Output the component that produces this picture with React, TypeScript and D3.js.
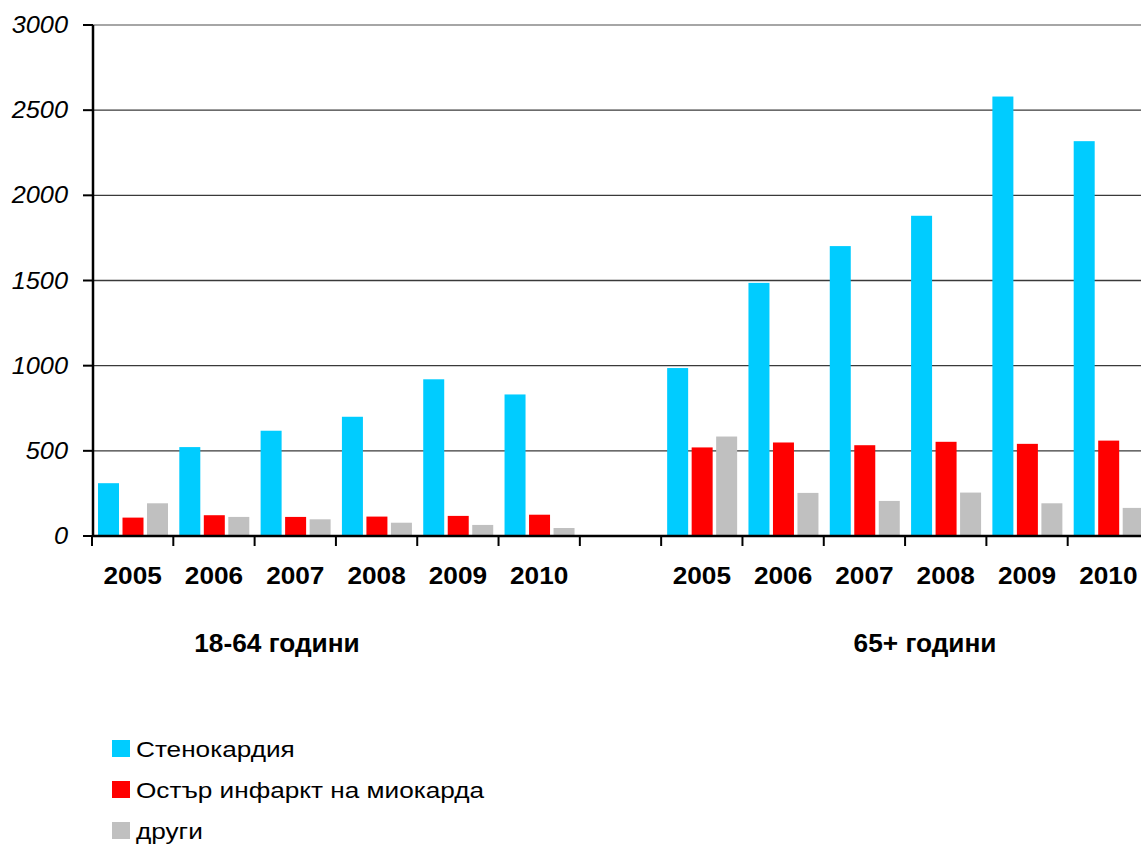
import React, { useEffect, useRef } from "react";
import { select, scaleBand, scaleLinear, axisBottom } from "d3";

// categories: 6 years, an empty gap slot, 6 years
const years = ["2005", "2006", "2007", "2008", "2009", "2010"];
const groups = ["18-64 години", "65+ години"];
const seriesNames = ["Стенокардия", "Остър инфаркт на миокарда", "други"];
const seriesColors = ["#00CCFF", "#FF0000", "#C0C0C0"];

// 18-64
const angina1864 = [310, 522, 618, 700, 920, 831];
const infarct1864 = [108, 122, 112, 114, 118, 125];
const other1864 = [192, 112, 98, 78, 65, 47];
// 65+
const angina65 = [986, 1486, 1702, 1880, 2580, 2318];
const infarct65 = [520, 549, 533, 553, 541, 560];
const other65 = [584, 253, 206, 255, 192, 165];

const yTicks = [0, 500, 1000, 1500, 2000, 2500, 3000];

const FONT = "'Liberation Sans', Arial, sans-serif";

export default function App() {
  const svgRef = useRef<SVGSVGElement>(null);

  useEffect(() => {
    document.body.style.margin = "0";
    const width = 1141;
    const height = 845;
    const svg = select(svgRef.current).attr("width", width).attr("height", height);
    svg.selectAll("*").remove();

    const slots = [...years.map((y) => "a" + y), "gap", ...years.map((y) => "b" + y)];
    const x = scaleBand().domain(slots).range([92, 1149]).padding(0);
    const inner = scaleBand<number>().domain([0, 1, 2]).range([6, 76]).paddingInner(0.143).paddingOuter(0);
    const y = scaleLinear().domain([0, 3000]).range([536, 25]);

    const rows: { slot: string; s: number; v: number }[] = [];
    const left = [angina1864, infarct1864, other1864];
    const right = [angina65, infarct65, other65];
    years.forEach((yr, i) => {
      left.forEach((arr, s) => rows.push({ slot: "a" + yr, s, v: arr[i] }));
      right.forEach((arr, s) => rows.push({ slot: "b" + yr, s, v: arr[i] }));
    });

    // gridlines
    svg.append("g")
      .selectAll("line")
      .data(yTicks.slice(1))
      .join("line")
      .attr("x1", 93)
      .attr("x2", width)
      .attr("y1", (d) => y(d))
      .attr("y2", (d) => y(d))
      .attr("stroke", (d) => (d === 3000 ? "#888" : "#3a3a3a"))
      .attr("stroke-width", 1.3);

    // bars
    svg.append("g")
      .selectAll("rect")
      .data(rows)
      .join("rect")
      .attr("x", (d) => (x(d.slot) as number) + (inner(d.s) as number))
      .attr("width", inner.bandwidth())
      .attr("y", (d) => y(d.v))
      .attr("height", (d) => y(0) - y(d.v))
      .attr("fill", (d) => seriesColors[d.s]);

    // y axis line + ticks + labels (labels slightly stretched like the original)
    svg.append("line")
      .attr("x1", 93).attr("x2", 93)
      .attr("y1", y(3000)).attr("y2", y(0) + 1)
      .attr("stroke", "#000").attr("stroke-width", 2.5);
    svg.append("g")
      .selectAll("line")
      .data(yTicks)
      .join("line")
      .attr("x1", 83).attr("x2", 93)
      .attr("y1", (d) => y(d)).attr("y2", (d) => y(d))
      .attr("stroke", "#000").attr("stroke-width", 2);
    svg.append("g")
      .selectAll("text")
      .data(yTicks)
      .join("text")
      .attr("transform", (d) => `translate(68,${y(d) + 8}) scale(1.1,1)`)
      .attr("text-anchor", "end")
      .style("font-family", FONT)
      .style("font-size", "23px")
      .style("font-style", "italic")
      .text((d) => String(d));

    // x axis: ticks at slot boundaries
    svg.append("line")
      .attr("x1", 92).attr("x2", width)
      .attr("y1", y(0)).attr("y2", y(0))
      .attr("stroke", "#000").attr("stroke-width", 2.5);
    const xAxis = axisBottom(x).tickSize(10).tickFormat(() => "");
    const gt = svg.append("g").attr("transform", `translate(${-x.bandwidth() / 2},${y(0)})`).call(xAxis);
    gt.select(".domain").remove();
    gt.selectAll(".tick line").attr("stroke", "#000").attr("stroke-width", 2);

    // year labels
    svg.append("g")
      .selectAll("text")
      .data(slots.filter((s) => s !== "gap"))
      .join("text")
      .attr("transform", (d) => `translate(${(x(d) as number) + x.bandwidth() / 2},584) scale(1.07,1)`)
      .attr("text-anchor", "middle")
      .style("font-family", FONT)
      .style("font-size", "24.5px")
      .style("font-weight", "bold")
      .text((d) => d.slice(1));

    // group labels
    svg.append("g")
      .selectAll("text")
      .data(groups)
      .join("text")
      .attr("transform", (d, i) => `translate(${i === 0 ? 277 : 925},652) scale(1.05,1)`)
      .attr("text-anchor", "middle")
      .style("font-family", FONT)
      .style("font-size", "25px")
      .style("font-weight", "bold")
      .text((d) => d);

    // legend
    const lg = svg.append("g")
      .selectAll("g")
      .data(seriesNames)
      .join("g")
      .attr("transform", (d, i) => `translate(112,${740 + i * 41})`);
    lg.append("rect").attr("width", 18).attr("height", 17).attr("fill", (d, i) => seriesColors[i]);
    lg.append("text")
      .attr("transform", "translate(24,17) scale(1.19,1)")
      .style("font-family", FONT)
      .style("font-size", "22px")
      .text((d) => d);
  }, []);

  return (
    <div>
      <svg ref={svgRef} style={{ display: "block" }}></svg>
    </div>
  );
}
